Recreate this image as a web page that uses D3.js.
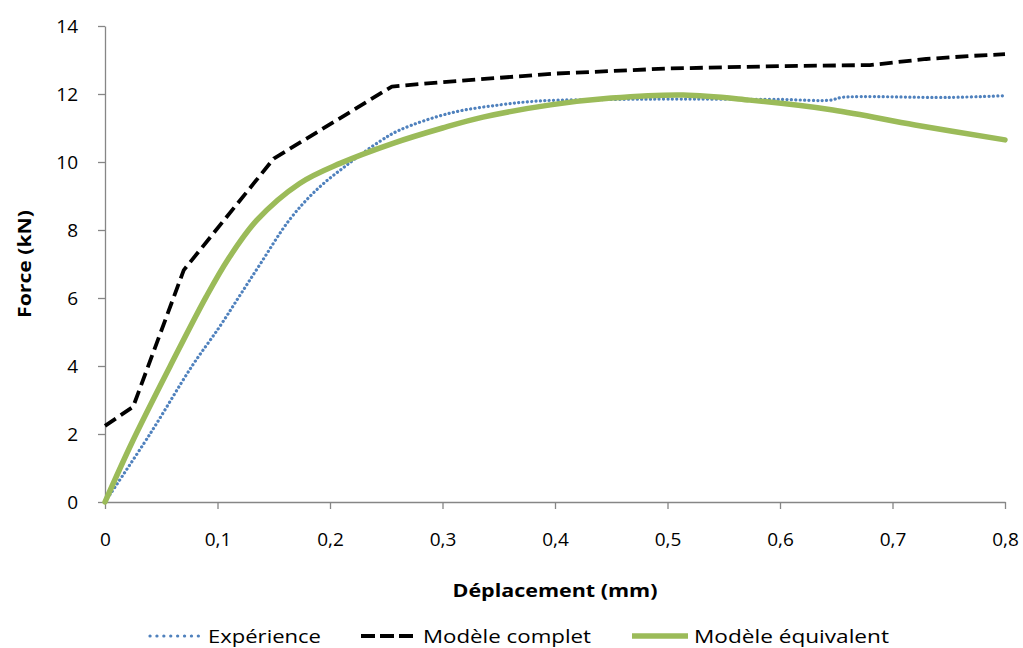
<!DOCTYPE html>
<html><head><meta charset="utf-8">
<script src="https://cdn.jsdelivr.net/npm/d3@7"></script>
<style>body{margin:0;background:#fff}svg{font-family:"Open Sans","Noto Sans",sans-serif}</style>
</head><body><svg id="c" width="1023" height="648"></svg>
<script>
const xTicks = [0,0.1,0.2,0.3,0.4,0.5,0.6,0.7,0.8];
const yTicks = [0,2,4,6,8,10,12,14];
const seriesNames = ["Expérience","Modèle complet","Modèle équivalent"];
const experience = [[0,0],[0.04,2],[0.077,3.98],[0.102,5.16],[0.12,6.08],[0.138,7.0],[0.164,8.3],[0.188,9.18],[0.215,9.91],[0.244,10.6],[0.262,10.94],[0.307,11.44],[0.351,11.68],[0.389,11.8],[0.45,11.84],[0.5,11.85],[0.6,11.84],[0.645,11.82],[0.655,11.9],[0.75,11.9],[0.8,11.95]];
const complet = [[0,2.24],[0.025,2.8],[0.07,6.82],[0.15,10.1],[0.255,12.22],[0.3,12.35],[0.4,12.6],[0.5,12.75],[0.6,12.82],[0.68,12.85],[0.73,13.03],[0.77,13.12],[0.8,13.17]];
const equivalent = [[0,0],[0.024,1.75],[0.058,4.0],[0.09,6.04],[0.11,7.17],[0.135,8.29],[0.173,9.37],[0.209,9.96],[0.256,10.55],[0.3,11.0],[0.336,11.32],[0.396,11.68],[0.45,11.88],[0.514,11.97],[0.573,11.82],[0.647,11.53],[0.72,11.09],[0.8,10.65]];

const svg = d3.select("#c");
const x = d3.scaleLinear().domain([0,0.8]).range([105,1005]);
const y = d3.scaleLinear().domain([0,14]).range([502,26]);
const axisColor = "#868686";

const gx = svg.append("g").attr("transform","translate(0,502)")
  .call(d3.axisBottom(x).tickValues(xTicks).tickFormat(d => d===0 ? "0" : String(d).replace(".", ",")).tickSize(7).tickPadding(24).tickSizeOuter(0));
const gy = svg.append("g").attr("transform","translate(105,0)")
  .call(d3.axisLeft(y).tickValues(yTicks).tickSize(7).tickPadding(20).tickSizeOuter(0));
[gx,gy].forEach(g=>{
  g.selectAll("path,line").attr("stroke",axisColor).attr("stroke-width",1.3);
  g.selectAll("text").attr("fill","#000").style("font-size","19px").style("font-family","'Open Sans','Noto Sans',sans-serif");
});

svg.append("text").attr("x",555).attr("y",597).attr("text-anchor","middle")
  .attr("textLength",205).attr("lengthAdjust","spacingAndGlyphs")
  .style("font-size","18px").style("font-weight","bold").text("Déplacement (mm)");
svg.append("text").attr("transform","translate(31,264) rotate(-90)").attr("text-anchor","middle")
  .attr("textLength",108).attr("lengthAdjust","spacingAndGlyphs")
  .style("font-size","18px").style("font-weight","bold").text("Force (kN)");

const lineLin = d3.line().x(d=>x(d[0])).y(d=>y(d[1]));
const lineSmooth = d3.line().x(d=>x(d[0])).y(d=>y(d[1])).curve(d3.curveCatmullRom.alpha(0.5));

const styles = [
  {data: experience, gen: lineSmooth, color:"#4F81BD", w:3.2, dash:"0.1,4.3", legDash:"0.1,6.8", cap:"round"},
  {data: complet, gen: lineLin, color:"#000", w:3.8, dash:"13,6", legDash:"14,5", cap:"butt"},
  {data: equivalent, gen: lineSmooth, color:"#9BBB59", w:5.5, dash:null, legDash:null, cap:"round"}
];
styles.forEach(s=>{
  svg.append("path").attr("d", s.gen(s.data)).attr("fill","none")
    .attr("stroke", s.color).attr("stroke-width", s.w)
    .attr("stroke-dasharray", s.dash).attr("stroke-linecap", s.cap).attr("stroke-linejoin","round");
});

const legX = [150, 361, 632];
const legW = [113, 168, 195];
seriesNames.forEach((n,i)=>{
  const s = styles[i];
  svg.append("line").attr("x1",legX[i]).attr("x2",legX[i]+(i===0?52:56)).attr("y1",636).attr("y2",636)
    .attr("stroke", s.color).attr("stroke-width", s.w).attr("stroke-dasharray", s.legDash)
    .attr("stroke-linecap", i===0 ? "round" : "butt");
  svg.append("text").attr("x",legX[i]+(i===0?58:62)).attr("y",643)
    .attr("textLength",legW[i]).attr("lengthAdjust","spacingAndGlyphs")
    .style("font-size","19px").text(n);
});
</script></body></html>
